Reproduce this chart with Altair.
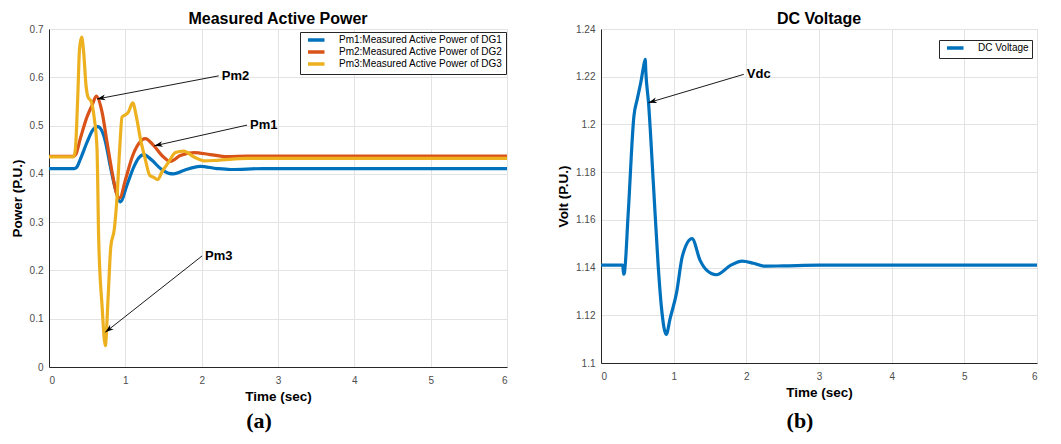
import math
import altair as alt
import pandas as pd

# ---------------- data: panel (a) ----------------
SERIES_A = ["Pm1:Measured Active Power of DG1",
            "Pm2:Measured Active Power of DG2",
            "Pm3:Measured Active Power of DG3"]
COLORS_A = ["#0072BD", "#D95319", "#EDB120"]

T_PM1 = [0, 0.33, 0.36, 0.41, 0.50, 0.57, 0.64, 0.69, 0.74, 0.80, 0.87, 0.935, 1.02, 1.11, 1.175,
         1.24, 1.35, 1.46, 1.57, 1.63, 1.765, 1.98, 2.2, 2.38, 2.8, 4.0, 6.0]
V_PM1 = [0.411, 0.411, 0.413, 0.430, 0.466, 0.490, 0.498, 0.490, 0.466, 0.418, 0.369, 0.342, 0.376, 0.414, 0.433,
         0.440, 0.428, 0.411, 0.401, 0.400, 0.407, 0.4156, 0.411, 0.409, 0.411, 0.411, 0.411]

T_PM2 = [0, 0.32, 0.35, 0.41, 0.498, 0.564, 0.62, 0.695, 0.76, 0.826, 0.88, 0.926, 1.0, 1.09, 1.175,
         1.26, 1.37, 1.48, 1.59, 1.72, 1.9, 2.11, 2.33, 2.6, 4.0, 6.0]
V_PM2 = [0.436, 0.436, 0.440, 0.473, 0.518, 0.542, 0.561, 0.528, 0.466, 0.404, 0.362, 0.350, 0.387, 0.435, 0.4625,
         0.473, 0.459, 0.438, 0.426, 0.438, 0.444, 0.440, 0.4355, 0.437, 0.437, 0.437]

T_PM3 = [0, 0.32, 0.345, 0.376, 0.40, 0.428, 0.454, 0.485, 0.511, 0.555, 0.594, 0.629, 0.651, 0.695,
         0.738, 0.773, 0.81, 0.856, 0.89, 0.926, 0.957, 0.987, 1.04, 1.097, 1.145, 1.197, 1.26, 1.32,
         1.37, 1.425, 1.48, 1.57, 1.656, 1.765, 1.9, 2.03, 2.2, 2.6, 4.0, 6.0]
V_PM3 = [0.435, 0.435, 0.45, 0.556, 0.659, 0.683, 0.652, 0.583, 0.559, 0.549, 0.514, 0.452, 0.265, 0.127,
         0.044, 0.14, 0.25, 0.286, 0.349, 0.452, 0.518, 0.521, 0.528, 0.547, 0.518, 0.473, 0.431, 0.397,
         0.393, 0.388, 0.404, 0.425, 0.444, 0.447, 0.435, 0.427, 0.428, 0.432, 0.432, 0.432]

# annotations (text start -> arrow tip) for panel (a)
ANN_A_LABEL = ["Pm2", "Pm1", "Pm3"]
ANN_A_T0 = [2.224, 2.595, 2.005]
ANN_A_V0 = [0.603, 0.501, 0.230]
ANN_A_T1 = [0.629, 1.38, 0.738]
ANN_A_V1 = [0.555, 0.458, 0.072]

# ---------------- data: panel (b) ----------------
SERIES_B = ["DC Voltage"]
COLORS_B = ["#0072BD"]
T_VDC = [0, 0.30, 0.31, 0.32, 0.374, 0.453, 0.498, 0.55, 0.587, 0.609, 0.617, 0.654, 0.72, 0.787, 0.83,
         0.898, 0.95, 1.04, 1.12, 1.253, 1.364, 1.45, 1.587, 1.787, 1.942, 2.1, 2.25, 2.5, 3.0, 6.0]
V_VDC = [1.141, 1.141, 1.1372, 1.1375, 1.1625, 1.2035, 1.2105, 1.218, 1.2245, 1.2273, 1.222, 1.2091, 1.1756,
         1.1407, 1.1239, 1.112, 1.1185, 1.1295, 1.1448, 1.1521, 1.143, 1.1390, 1.137, 1.141, 1.1427, 1.1418,
         1.1406, 1.1407, 1.141, 1.141]

ANN_B_LABEL = ["Vdc"]
ANN_B_T0 = [1.965]
ANN_B_V0 = [1.221]
ANN_B_T1 = [0.653]
ANN_B_V1 = [1.2091]

X_TICKS = [0, 1, 2, 3, 4, 5, 6]
Y_TICKS_A = [0, 0.1, 0.2, 0.3, 0.4, 0.5, 0.6, 0.7]
Y_TICKS_B = [1.1, 1.12, 1.14, 1.16, 1.18, 1.2, 1.22, 1.24]

# ---------------- layout / style ----------------
W_A, H_A = 458, 338
W_B, H_B = 436, 334
FONT = "Liberation Sans"
ARROW = "M0,0 L0.55,1.6 L0,1.15 L-0.55,1.6 Z"


def ann_frame(labels, t0, v0, t1, v1, w, h, ydom):
    sx = w / 6.0
    sy = h / (ydom[1] - ydom[0])
    rows = []
    for lab, a, b, c, d in zip(labels, t0, v0, t1, v1):
        dx = (c - a) * sx
        dy = -(d - b) * sy
        ang = math.degrees(math.atan2(dx, -dy)) % 360
        rows.append(dict(label=lab, t0=a, v0=b, t1=c, v1=d, ang=ang))
    return pd.DataFrame(rows)


def axis(values, fmt, title, pad, tpad):
    return alt.Axis(values=values, format=fmt, title=title, grid=True, ticks=False,
                    gridColor="#e3e3e3", domainColor="#262626",
                    labelFont=FONT, labelFontSize=10, labelColor="#4d4d4d", labelPadding=pad,
                    titleFont=FONT, titleFontSize=13.5, titleFontWeight="bold", titleColor="black",
                    titlePadding=tpad)


def panel(df, field, series, colors, ann, w, h, ydom, yticks, yfmt, ytitle, title,
          legx, legy, letter, letter_x, letter_y):
    xs = alt.Scale(domain=[0, 6], nice=False)
    ys = alt.Scale(domain=ydom, nice=False, zero=False)
    xax = axis(X_TICKS, "d", "Time (sec)", 8, 4)
    yax = axis(yticks, yfmt, ytitle, 6, 5)
    lines = alt.Chart(df).mark_line(strokeWidth=3.2, interpolate="monotone", clip=True).encode(
        x=alt.X("t:Q", scale=xs, axis=xax),
        y=alt.Y("v:Q", scale=ys, axis=yax),
        color=alt.Color(f"{field}:N", scale=alt.Scale(domain=series, range=colors),
                        legend=alt.Legend(title=None, orient="none", legendX=legx, legendY=legy,
                                          symbolType="M0,0H6.6", symbolSize=25, symbolStrokeWidth=3.5,
                                          labelFont=FONT, labelFontSize=10, labelLimit=400,
                                          labelOffset=26, rowPadding=-4,
                                          strokeColor="#262626", fillColor="white", padding=3,
                                          cornerRadius=0)),
        order=alt.Order("idx:Q"),
    )
    rule = alt.Chart(ann).mark_rule(color="black", strokeWidth=0.9).encode(
        x=alt.X("t0:Q", scale=xs), y=alt.Y("v0:Q", scale=ys),
        x2="t1:Q", y2="v1:Q")
    head = alt.Chart(ann).mark_point(shape=ARROW, filled=True, color="black", opacity=1,
                                     size=110, strokeWidth=0).encode(
        x=alt.X("t1:Q", scale=xs), y=alt.Y("v1:Q", scale=ys),
        angle=alt.Angle("ang:Q", scale=None))
    txt = alt.Chart(ann).mark_text(align="left", baseline="middle", dx=3, font=FONT,
                                   fontWeight="bold", fontSize=13, color="black").encode(
        x=alt.X("t0:Q", scale=xs), y=alt.Y("v0:Q", scale=ys), text="label:N")
    lab = alt.Chart(pd.DataFrame({"s": [letter]})).mark_text(
        font="Liberation Serif", fontSize=22, fontWeight="bold", color="black",
        align="center", baseline="middle").encode(
        x=alt.value(letter_x), y=alt.value(letter_y), text="s:N")
    return alt.layer(lines, rule, head, txt, lab).properties(
        width=w, height=h,
        title=alt.TitleParams(title, font=FONT, fontSize=16, fontWeight="bold", offset=-3, color="black"))


rows = []
for name, ts, vs in zip(SERIES_A, [T_PM1, T_PM2, T_PM3], [V_PM1, V_PM2, V_PM3]):
    for i, (t, v) in enumerate(zip(ts, vs)):
        rows.append(dict(t=t, v=v, series=name, idx=i))
df_a = pd.DataFrame(rows)
df_b = pd.DataFrame(dict(t=T_VDC, v=V_VDC, series_b=SERIES_B[0], idx=list(range(len(T_VDC)))))

ann_a = ann_frame(ANN_A_LABEL, ANN_A_T0, ANN_A_V0, ANN_A_T1, ANN_A_V1, W_A, H_A, [0, 0.7])
ann_b = ann_frame(ANN_B_LABEL, ANN_B_T0, ANN_B_V0, ANN_B_T1, ANN_B_V1, W_B, H_B, [1.1, 1.24])

pa = panel(df_a, "series", SERIES_A, COLORS_A, ann_a, W_A, H_A, [0, 0.7], Y_TICKS_A, ".1~f",
           "Power (P.U.)", "Measured Active Power", 251, 3, "(a)", 210, 392)
pb = panel(df_b, "series_b", SERIES_B, COLORS_B, ann_b, W_B, H_B, [1.1, 1.24], Y_TICKS_B, ".2~f",
           "Volt (P.U.)", "DC Voltage", 338, 11, "(b)", 199, 392)

chart = alt.hconcat(pa, pb, spacing=48).resolve_scale(color="independent").resolve_legend(
    color="independent").properties(padding={"left": 1, "top": 2, "right": 0, "bottom": 0}).configure_view(
    stroke="#262626", strokeWidth=1).configure(background="white")

chart.save("out.html", embed_options={"renderer": "svg", "actions": False})
